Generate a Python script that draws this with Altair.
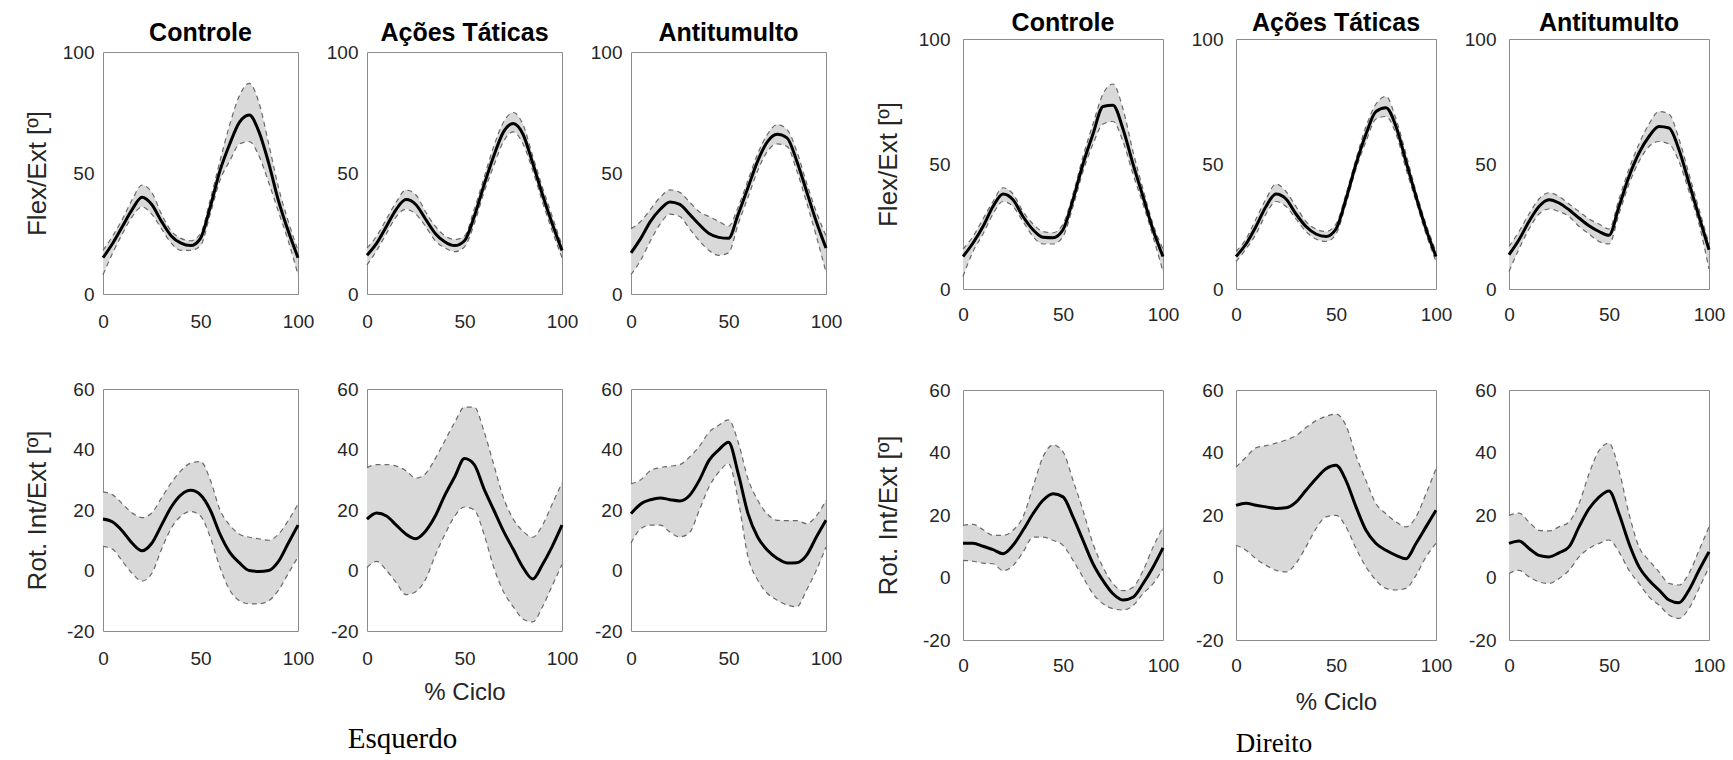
import altair as alt
import pandas as pd

# Percent of gait cycle at which each curve was sampled
CICLO = [0, 5, 10, 15, 20, 25, 30, 35, 40, 45, 50, 55, 60, 65, 70, 75, 80, 85, 90, 95, 100]

# ---------------- Esquerdo: Flex/Ext ----------------
esq_flex_controle_media = [15, 21, 28, 35, 40, 37, 30, 24, 21, 20, 23, 36, 51, 62, 71, 74, 67, 54, 38.5, 26, 15]
esq_flex_controle_sup = [18, 24, 31, 39, 45, 42, 33, 26, 23, 22, 25, 39, 55, 70, 82, 87, 79, 62, 44, 30, 18]
esq_flex_controle_inf = [8, 17, 25, 32, 36, 33, 27, 21, 18, 18, 20, 33, 47, 55, 62, 63, 57, 46, 34, 22, 8]

esq_flex_acoes_media = [16, 21, 28, 35, 39, 37, 31, 25, 21.5, 20, 22, 32, 45, 57, 67, 70.5, 66, 54, 41, 29, 18]
esq_flex_acoes_sup = [19, 24, 31, 38, 43, 41, 34, 28, 24, 22.5, 24, 35, 48, 61, 71, 75, 70, 57, 44, 32, 20]
esq_flex_acoes_inf = [12, 18, 25, 32, 35, 33, 28, 22, 19, 17.5, 19.5, 29, 42, 53, 63, 67, 62, 51, 38, 26, 15]

esq_flex_anti_media = [17, 23, 30, 35, 38, 37, 33, 28.7, 25, 23.4, 23, 33, 44, 55, 63, 66, 64.5, 55, 42.5, 30, 19]
esq_flex_anti_sup = [27, 30, 35, 40, 43, 42, 38, 34, 32, 30, 28, 36, 47, 58, 66, 70, 68, 59, 46, 34, 24]
esq_flex_anti_inf = [8, 14, 22, 29, 33, 32, 27, 22, 18, 16, 17, 29, 40, 51, 59, 62, 61, 51, 38, 24, 9]

# ---------------- Esquerdo: Rot. Int/Ext ----------------
esq_rot_controle_media = [17, 16, 13, 9, 6.5, 9, 15, 21, 25, 26.5, 25, 20, 12, 6, 2.5, 0, -0.3, 0, 3, 9, 15]
esq_rot_controle_sup = [26, 25, 22, 19, 17.5, 19, 24, 29, 33, 35.5, 36, 30, 20, 15, 12, 11, 10.5, 10, 12, 16.5, 22]
esq_rot_controle_inf = [8, 7, 3, -1, -3.5, -1, 7, 14, 18, 19.5, 18, 11, 1, -6.5, -10, -11, -11, -10, -6.5, -1, 4.5]

esq_rot_acoes_media = [17, 19, 18, 15, 12, 10.5, 13, 18, 25, 31, 37, 35, 27, 20, 13, 7, 1, -2.8, 2, 8, 15]
esq_rot_acoes_sup = [34, 35, 35, 34.5, 33, 30.5, 32, 37, 43, 49, 54, 54, 46, 35, 24, 17, 13, 11, 15, 22, 29]
esq_rot_acoes_inf = [1, 3, 0, -4, -8, -7, -3, 5, 12, 18, 21, 20, 12, 1, -7, -12, -16, -17, -12, -5, 2]

esq_rot_anti_media = [18.8, 22, 23.4, 24, 23.4, 23, 24.8, 29.8, 36.4, 39.9, 42.4, 32, 18.8, 11, 6.7, 4, 2.5, 2.6, 5, 11, 16.6]
esq_rot_anti_sup = [28.7, 30, 33, 34, 34.5, 35, 37.5, 41, 45.7, 48, 49.8, 42.4, 30.3, 23.2, 18.6, 16.6, 16.5, 16.5, 15.5, 18, 23.2]
esq_rot_anti_inf = [9.1, 13.8, 15, 15, 12.7, 11.1, 12.5, 19.9, 27.6, 32.5, 35.3, 23.2, 4.5, -3.2, -7.6, -9.8, -11.4, -12, -6.5, 0, 7.8]

# ---------------- Direito: Flex/Ext ----------------
dir_flex_controle_media = [13, 18.4, 25, 33, 38, 35.7, 29, 23.7, 20.7, 20.5, 23.7, 35.7, 50, 62, 73, 73.5, 64, 50, 37, 23.7, 13]
dir_flex_controle_sup = [16, 21, 28, 35, 40.5, 38, 31, 26, 23, 22.5, 26, 38, 53, 66, 78, 82, 72, 55, 40, 26, 16]
dir_flex_controle_inf = [5, 15, 22, 30, 35, 33, 27, 21, 18, 18, 21, 33, 47, 58, 66, 67, 59, 46, 34, 21, 7]

dir_flex_acoes_media = [13, 18, 25, 33, 38, 36, 30, 25, 22, 21, 24, 36, 50, 62, 71, 72.5, 65, 51, 37, 24, 13]
dir_flex_acoes_sup = [15, 20, 28, 36, 42, 39, 33, 27, 24, 23, 26, 38, 52, 65, 74, 77, 68, 54, 39, 26, 15]
dir_flex_acoes_inf = [11, 16, 22, 30, 35, 33, 28, 23, 20, 19, 22, 34, 48, 59, 68, 69, 62, 48, 35, 22, 11]

dir_flex_anti_media = [13.7, 19.7, 27, 33, 35.7, 34.4, 31.7, 28.4, 25.3, 23, 21.5, 33, 45, 54.4, 61, 65, 64.4, 55.7, 42.4, 29, 15.7]
dir_flex_anti_sup = [17, 23, 30, 36, 38.5, 37, 34, 31, 28, 26, 24, 36, 48, 58, 66, 71, 70, 60, 46, 32, 18]
dir_flex_anti_inf = [7, 16, 24, 30, 32, 31, 29, 25, 22, 19, 18, 30, 42, 51, 57, 59, 58, 51, 39, 26, 8]

# ---------------- Direito: Rot. Int/Ext ----------------
dir_rot_controle_media = [11, 11, 10, 8.9, 7.6, 10.3, 15.1, 20.4, 24.7, 26.8, 25.8, 19.4, 11.9, 4.4, -1, -5.2, -7.2, -6.3, -2, 3.3, 9.5]
dir_rot_controle_sup = [16.7, 17, 15.3, 13.5, 13.5, 15.1, 19.4, 29, 38.6, 42.4, 40.2, 31.1, 21.5, 10.8, 3.3, -2, -4.2, -3.1, 2.2, 9.7, 16.1]
dir_rot_controle_inf = [5.5, 5.2, 4.6, 4.4, 2.2, 3.8, 8.1, 12.9, 12.9, 11.9, 10.3, 5.5, 0.1, -5.2, -8.4, -10, -10.4, -9, -5.2, -2, 2.8]

dir_rot_acoes_media = [23.1, 23.8, 23.1, 22.6, 22.1, 22.3, 24.1, 27.9, 31.6, 34.8, 35.9, 31, 22.6, 15.1, 10.9, 8.7, 7.1, 6, 10.9, 16.2, 21.5]
dir_rot_acoes_sup = [35.3, 38.5, 41.5, 42.2, 43, 44, 45.4, 48, 50.2, 51.6, 52.3, 48.6, 39, 31, 23.6, 20.4, 17.8, 16.2, 19.4, 26.8, 34.8]
dir_rot_acoes_inf = [10.3, 8.7, 6, 3.9, 2.3, 1.8, 4.5, 9.8, 15.6, 19.4, 19.9, 16.2, 9.3, 3.4, -0.9, -3.5, -4, -3.5, 0.7, 6.6, 10.9]

dir_rot_anti_media = [10.9, 11.7, 9.3, 7.1, 6.6, 7.9, 9.8, 16.2, 22, 25.7, 27.7, 20.4, 10.9, 3.4, -0.9, -4, -7.2, -8.1, -4, 2.3, 8.2]
dir_rot_anti_sup = [19.9, 20.6, 17.8, 15.1, 14.9, 16.2, 17.8, 23.6, 33.2, 40.6, 43, 34.3, 20.4, 9.8, 5.5, 1.8, -1.9, -2.4, 1.3, 8.7, 16.2]
dir_rot_anti_inf = [1.3, 2.3, 0.2, -1.4, -1.9, -0.3, 2.3, 6.6, 9.3, 10.9, 12, 8.2, 2.3, -1.9, -6.2, -8.8, -12, -13.1, -9.9, -3.5, 3.4]

GRUPOS = ["Controle", "Ações Táticas", "Antitumulto"]
FLEX_DOMINIO, FLEX_TICKS = [0, 100], [0, 50, 100]
ROT_DOMINIO, ROT_TICKS = [-20, 60], [-20, 0, 20, 40, 60]
X_TICKS = [0, 50, 100]

FONTE = "Liberation Sans"
TEXTO = "#262626"
FAIXA = "#d9d9d9"
TRACEJADO = "#6a6a6a"


def titulo_grupo(texto, offset):
    return alt.TitleParams(text=texto, font=FONTE, fontSize=25, fontWeight="bold",
                           color="black", anchor="middle", offset=offset)


def painel(media, sup, inf, y_dom, y_vals, largura, altura, y_lab_pad, x_lab_pad,
           titulo=None, titulo_offset=0, y_titulo=None, y_tit_pad=0,
           x_titulo=None, x_tit_pad=0, lado=None, lado_offset=18, lado_size=28):
    df = pd.DataFrame({"ciclo": CICLO, "media": media, "sup": sup, "inf": inf})

    x_kw = dict(values=X_TICKS, labelPadding=x_lab_pad, labelExpr="'' + datum.value")
    if x_titulo:
        x_kw.update(title=x_titulo, titlePadding=x_tit_pad, titleFontSize=24)
    else:
        x_kw.update(title=None)
    y_kw = dict(values=y_vals, labelPadding=y_lab_pad, labelExpr="'' + datum.value")
    if y_titulo:
        y_kw.update(title=y_titulo, titlePadding=y_tit_pad, titleFontSize=26)
    else:
        y_kw.update(title=None)

    x = alt.X("ciclo:Q", scale=alt.Scale(domain=[0, 100], nice=False, zero=False),
              axis=alt.Axis(**x_kw))
    escala_y = alt.Scale(domain=y_dom, nice=False, zero=False)
    eixo_y = alt.Axis(**y_kw)

    base = alt.Chart(df)
    faixa = base.mark_area(color=FAIXA, interpolate="monotone").encode(
        x=x, y=alt.Y("inf:Q", scale=escala_y, axis=eixo_y), y2="sup:Q")
    borda_sup = base.mark_line(color=TRACEJADO, strokeDash=[5, 4], strokeWidth=1.2,
                               interpolate="monotone").encode(
        x=x, y=alt.Y("sup:Q", scale=escala_y, axis=eixo_y))
    borda_inf = base.mark_line(color=TRACEJADO, strokeDash=[5, 4], strokeWidth=1.2,
                               interpolate="monotone").encode(
        x=x, y=alt.Y("inf:Q", scale=escala_y, axis=eixo_y))
    linha = base.mark_line(color="black", strokeWidth=3, interpolate="monotone").encode(
        x=x, y=alt.Y("media:Q", scale=escala_y, axis=eixo_y))

    ch = alt.layer(faixa, borda_sup, borda_inf, linha).properties(width=largura, height=altura)
    if titulo:
        ch = ch.properties(title=titulo_grupo(titulo, titulo_offset))
    if lado:
        ch = ch.properties(title=alt.TitleParams(
            text=lado, orient="bottom", anchor="middle", dx=-62, offset=lado_offset,
            font="Liberation Serif", fontSize=lado_size, fontWeight="normal", color="black"))
    return ch


def faixa_titulos(largura, esp_h, offset):
    # one-pixel strips that only carry the column titles
    vazios = []
    for nome in GRUPOS:
        vazios.append(
            alt.Chart(pd.DataFrame({"v": [0]})).mark_rule(opacity=0).encode(
                x=alt.value(0), x2=alt.value(1), y=alt.value(0)
            ).properties(width=largura, height=1, title=titulo_grupo(nome, offset),
                         view=alt.ViewBackground(stroke="transparent"))
        )
    return alt.hconcat(*vazios, spacing=esp_h, bounds="flush")


def linhas(flex, rot, largura, altura, esp_h, y_lab_pad, x_lab_pad,
           flex_tit_pad, rot_tit_pad, x_tit_pad, lado, lado_offset, lado_size,
           com_titulos, titulo_offset=0):
    topo = []
    baixo = []
    for i, nome in enumerate(GRUPOS):
        m, s, n = flex[i]
        topo.append(painel(m, s, n, FLEX_DOMINIO, FLEX_TICKS, largura, altura,
                           y_lab_pad, x_lab_pad,
                           titulo=nome if com_titulos else None,
                           titulo_offset=titulo_offset,
                           y_titulo="Flex/Ext [º]" if i == 0 else None,
                           y_tit_pad=flex_tit_pad))
        m, s, n = rot[i]
        baixo.append(painel(m, s, n, ROT_DOMINIO, ROT_TICKS, largura, altura,
                            y_lab_pad, x_lab_pad,
                            y_titulo="Rot. Int/Ext [º]" if i == 0 else None,
                            y_tit_pad=rot_tit_pad,
                            x_titulo="% Ciclo" if i == 1 else None,
                            x_tit_pad=x_tit_pad,
                            lado=lado if i == 1 else None,
                            lado_offset=lado_offset, lado_size=lado_size))
    linha_topo = alt.hconcat(*topo, spacing=esp_h, bounds="flush")
    linha_baixo = alt.hconcat(*baixo, spacing=esp_h, bounds="flush")
    return linha_topo, linha_baixo


esq_flex = [
    (esq_flex_controle_media, esq_flex_controle_sup, esq_flex_controle_inf),
    (esq_flex_acoes_media, esq_flex_acoes_sup, esq_flex_acoes_inf),
    (esq_flex_anti_media, esq_flex_anti_sup, esq_flex_anti_inf),
]
esq_rot = [
    (esq_rot_controle_media, esq_rot_controle_sup, esq_rot_controle_inf),
    (esq_rot_acoes_media, esq_rot_acoes_sup, esq_rot_acoes_inf),
    (esq_rot_anti_media, esq_rot_anti_sup, esq_rot_anti_inf),
]
dir_flex = [
    (dir_flex_controle_media, dir_flex_controle_sup, dir_flex_controle_inf),
    (dir_flex_acoes_media, dir_flex_acoes_sup, dir_flex_acoes_inf),
    (dir_flex_anti_media, dir_flex_anti_sup, dir_flex_anti_inf),
]
dir_rot = [
    (dir_rot_controle_media, dir_rot_controle_sup, dir_rot_controle_inf),
    (dir_rot_acoes_media, dir_rot_acoes_sup, dir_rot_acoes_inf),
    (dir_rot_anti_media, dir_rot_anti_sup, dir_rot_anti_inf),
]

# Esquerdo: titles sit on a separate strip so the panels start a little lower
esq_topo, esq_baixo = linhas(esq_flex, esq_rot, 195, 242, 69, 9, 18, 12, 16, 12,
                             "Esquerdo", 21, 29, com_titulos=False)
esquerdo = alt.vconcat(
    faixa_titulos(195, 69, -7),
    alt.vconcat(esq_topo, esq_baixo, spacing=47),
    spacing=-5,
)

dir_topo, dir_baixo = linhas(dir_flex, dir_rot, 200, 250, 73, 13, 16, 17, 21, 15,
                             "Direito", 17, 27, com_titulos=True, titulo_offset=-6)
direito = alt.vconcat(dir_topo, dir_baixo, spacing=55)

chart = alt.hconcat(esquerdo, direito, spacing=31).properties(
    padding={"left": 23, "top": 10, "right": 5, "bottom": 5},
    background="white",
).configure_view(
    stroke="#8c8c8c", strokeWidth=1
).configure_axis(
    grid=False, ticks=False, domain=False, labelFlush=False,
    labelFont=FONTE, labelFontSize=19, labelColor=TEXTO,
    titleFont=FONTE, titleFontWeight="normal", titleColor=TEXTO,
)

chart.save("out.html", embed_options={"renderer": "svg", "actions": False})
